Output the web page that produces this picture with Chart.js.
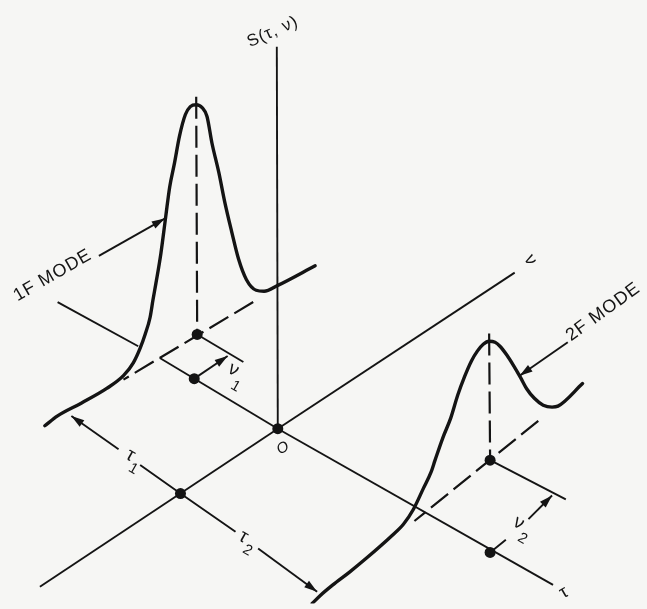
<!DOCTYPE html>
<html lang="en">
<head>
    <meta charset="UTF-8">
    <title>Mode sketch S(τ, ν)</title>
    <style>
        html, body { margin: 0; padding: 0; background: #f6f6f4; }
        canvas { display: block; }
    </style>
</head>
<body>
    <canvas id="myChart" width="647" height="609"></canvas>

    <script src="https://cdn.jsdelivr.net/npm/chart.js"></script>
    <script>
        // data: every pair is [x, y] in the drawing's own units (x right, y down)
        const sAxis = [[276, 42], [277, 431]];
        const nuAxis = [[277, 431], [518, 272]];
        const nuNegAxis = [[277, 431], [35, 592]];
        const tauAxis = [[277, 431], [557, 590]];
        const tauNegNear = [[157, 359], [277, 431]];
        const tauNegFar = [[53, 302], [135, 347]];
        const nu1Base = [[195, 335], [242, 363]];
        const nu2Base = [[493, 463], [570, 503]];
        const tau1Left = [[67, 418], [115, 452]];
        const tau1Right = [[137, 468], [178, 497], [234, 536]];
        const tau2Right = [[257, 553], [317, 597]];
        const nu1Arrow = [[192, 380], [226, 357]];
        const nu2ArrowLow = [[493, 557], [509, 544]];
        const nu2ArrowHigh = [[532, 523], [556, 499]];
        const mode1Arrow = [[95, 255], [162, 217]];
        const mode2Arrow = [[572, 343], [523, 377]];

        const peak1Drop = [[194, 93], [195, 335]];
        const peak1Diag = [[252, 302], [120, 381]];
        const peak2Drop = [[492, 334], [493, 463]];
        const peak2Diag = [[542, 423], [416, 525]];

        const mode1Curve = [
            [40, 428], [53, 418], [77, 405], [103, 390], [120, 377], [130, 364],
            [137, 349], [142, 335], [147, 318], [150, 300], [153, 283], [158, 253],
            [163, 215], [167, 185], [172, 160], [177, 133], [183, 111], [188, 103],
            [194, 101], [200, 104], [205, 113], [210, 140], [217, 170], [223, 200],
            [230, 230], [237, 258], [245, 279], [255, 290], [263, 291], [277, 285],
            [315, 265]
        ];
        const mode2Curve = [
            [312, 609], [320, 601], [333, 590], [350, 577], [367, 563], [393, 540],
            [405, 528], [415, 513], [425, 492], [433, 475], [437, 463], [445, 440],
            [453, 420], [460, 397], [467, 378], [474, 362], [480, 352], [486, 345],
            [492, 342], [498, 343], [503, 347], [510, 356], [517, 367], [524, 379],
            [530, 390], [538, 400], [547, 407], [556, 409], [562, 408], [587, 385]
        ];

        const markers = [[277, 431], [178, 497], [195, 335], [192, 380], [493, 463], [493, 557]];

        // labels: text, anchor point, rotation in degrees, font size
        const labels = [
            { text: 'S(τ, ν)', x: 272, y: 27, rot: -24, size: 17 },
            { text: '1F MODE', x: 48, y: 275, rot: -30, size: 18 },
            { text: '2F MODE', x: 608, y: 312, rot: -36, size: 18 },
            { text: 'τ', x: 127, y: 458, rot: 30, size: 19 },
            { text: '1', x: 130, y: 472, rot: 30, size: 15 },
            { text: 'τ', x: 242, y: 541, rot: 30, size: 19 },
            { text: '2', x: 246, y: 555, rot: 30, size: 15 },
            { text: 'ν', x: 232, y: 371, rot: 30, size: 19 },
            { text: '1', x: 234, y: 388, rot: 30, size: 15 },
            { text: 'ν', x: 522, y: 527, rot: 30, size: 19 },
            { text: '2', x: 526, y: 543, rot: 30, size: 15 },
            { text: 'ν', x: 534, y: 259, rot: 60, size: 18 },
            { text: 'τ', x: 568, y: 598, rot: -30, size: 18 },
            { text: 'O', x: 282, y: 451, rot: -25, size: 15, italic: true }
        ];

        const INK = '#141414';
        const toXY = arr => arr.map(p => ({ x: p[0], y: p[1] }));

        function solid(data, width, arrowAt) {
            return { data: toXY(data), showLine: true, borderColor: INK, borderWidth: width || 1.9,
                     pointRadius: 0, tension: 0, arrowAt: arrowAt };
        }
        function dashed(data) {
            return { data: toXY(data), showLine: true, borderColor: INK, borderWidth: 2.2,
                     borderDash: [22, 7], pointRadius: 0, tension: 0 };
        }
        function curve(data) {
            return { data: toXY(data), showLine: true, borderColor: INK, borderWidth: 3.4,
                     pointRadius: 0, cubicInterpolationMode: 'monotone', borderCapStyle: 'round' };
        }

        const datasets = [
            solid(sAxis), solid(nuAxis), solid(nuNegAxis), solid(tauAxis),
            solid(tauNegNear), solid(tauNegFar), solid(nu1Base), solid(nu2Base),
            solid(tau1Left, 1.9, 'start'), solid(tau1Right), solid(tau2Right, 1.9, 'end'),
            solid(nu1Arrow, 1.9, 'end'), solid(nu2ArrowLow), solid(nu2ArrowHigh, 1.9, 'end'),
            solid(mode1Arrow, 1.9, 'end'), solid(mode2Arrow, 1.9, 'end'),
            dashed(peak1Drop), dashed(peak1Diag), dashed(peak2Drop), dashed(peak2Diag),
            curve(mode1Curve), curve(mode2Curve),
            { data: toXY(markers), showLine: false, pointRadius: 5.5, pointBackgroundColor: INK,
              pointBorderColor: INK, pointBorderWidth: 0 }
        ];

        // paper colour behind everything
        const paper = {
            id: 'paper',
            beforeDraw(chart) {
                const c = chart.ctx;
                c.save();
                c.fillStyle = '#f6f6f4';
                c.fillRect(0, 0, chart.width, chart.height);
                c.restore();
            }
        };

        // arrow heads at the ends of the flagged lines
        const arrowHeads = {
            id: 'arrowHeads',
            afterDatasetsDraw(chart) {
                const c = chart.ctx;
                chart.data.datasets.forEach((ds, i) => {
                    if (!ds.arrowAt) return;
                    const pts = chart.getDatasetMeta(i).data;
                    let tip, from;
                    if (ds.arrowAt === 'end') { tip = pts[pts.length - 1]; from = pts[pts.length - 2]; }
                    else { tip = pts[0]; from = pts[1]; }
                    const a = Math.atan2(tip.y - from.y, tip.x - from.x);
                    const len = 13, half = 4;
                    c.save();
                    c.fillStyle = INK;
                    c.translate(tip.x, tip.y);
                    c.rotate(a);
                    c.beginPath();
                    c.moveTo(0, 0);
                    c.lineTo(-len, -half);
                    c.lineTo(-len, half);
                    c.closePath();
                    c.fill();
                    c.restore();
                });
            }
        };

        // rotated lettering
        const lettering = {
            id: 'lettering',
            afterDatasetsDraw(chart) {
                const c = chart.ctx;
                const sx = chart.scales.x, sy = chart.scales.y;
                labels.forEach(l => {
                    c.save();
                    c.translate(sx.getPixelForValue(l.x), sy.getPixelForValue(l.y));
                    c.rotate(l.rot * Math.PI / 180);
                    c.fillStyle = INK;
                    c.font = (l.italic ? 'italic ' : '') + l.size + 'px "Liberation Sans", Arial, sans-serif';
                    c.letterSpacing = l.text.length > 3 ? '1px' : '0px';
                    c.textAlign = 'center';
                    c.textBaseline = 'middle';
                    c.fillText(l.text, 0, 0);
                    c.restore();
                });
            }
        };

        const config = {
            type: 'scatter',
            data: { datasets: datasets },
            options: {
                responsive: false,
                animation: false,
                layout: { padding: 0 },
                plugins: { legend: { display: false }, tooltip: { enabled: false } },
                scales: {
                    x: { type: 'linear', min: 0, max: 647, display: false },
                    y: { type: 'linear', min: 0, max: 609, reverse: true, display: false }
                }
            },
            plugins: [paper, arrowHeads, lettering]
        };

        const ctx = document.querySelector('#myChart').getContext('2d');
        new Chart(ctx, config);
    </script>
</body>
</html>
